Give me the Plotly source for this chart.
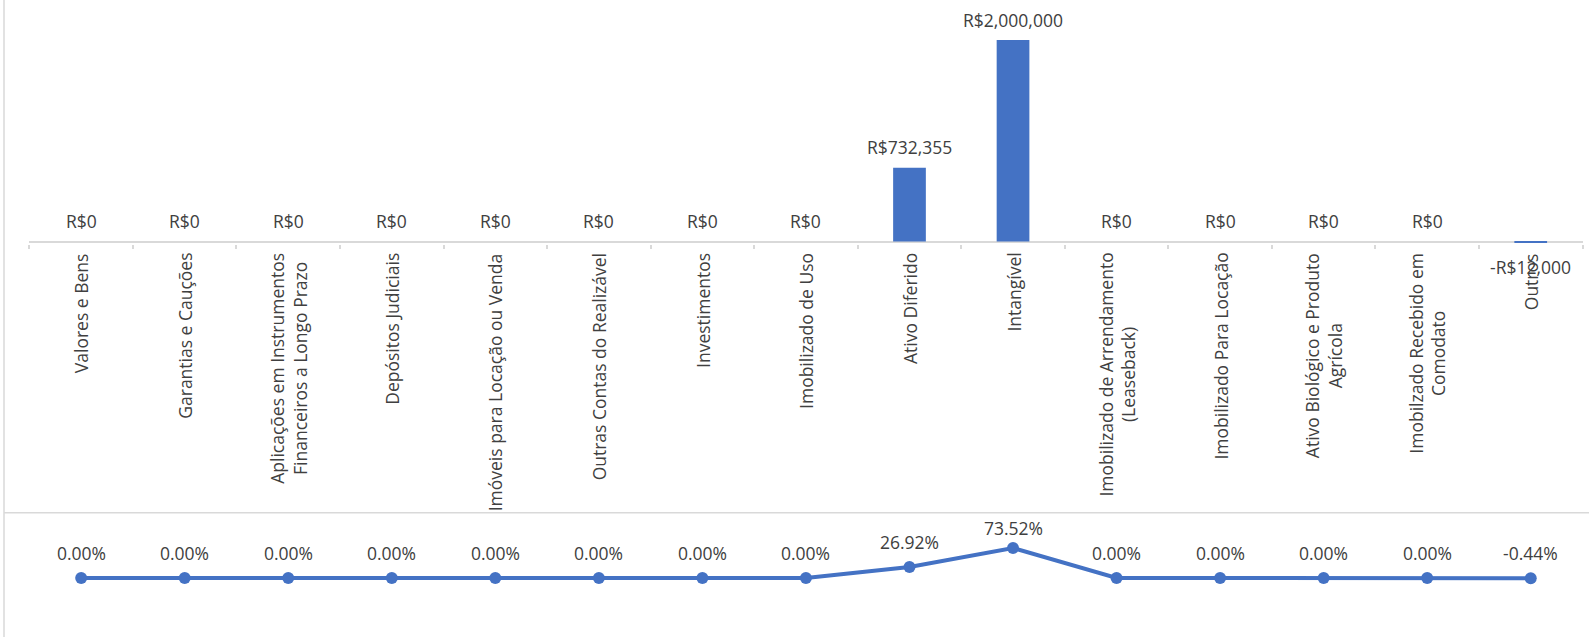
import plotly.graph_objects as go

categories = [
    "Valores e Bens",
    "Garantias e Cauções",
    "Aplicações em Instrumentos<br>Financeiros a Longo Prazo",
    "Depósitos Judiciais",
    "Imóveis para Locação ou Venda",
    "Outras Contas do Realizável",
    "Investimentos",
    "Imobilizado de Uso",
    "Ativo Diferido",
    "Intangível",
    "Imobilizado de Arrendamento<br>(Leaseback)",
    "Imobilizado Para Locação",
    "Ativo Biológico e Produto<br>Agrícola",
    "Imobilzado Recebido em<br>Comodato",
    "Outros",
]
values = [0, 0, 0, 0, 0, 0, 0, 0, 732355, 2000000, 0, 0, 0, 0, -12000]
shares = [0, 0, 0, 0, 0, 0, 0, 0, 0.2692, 0.7352, 0, 0, 0, 0, -0.0044]

W, H = 1589, 637
BLUE = "#4472C4"
TXT = "#404040"
GRID = "#d9d9d9"
FONT = "Open Sans"
FS = 17.5


def py(p):
    return 1 - p / H


def px(p):
    return p / W


def money(v):
    return ("-" if v < 0 else "") + "R$" + f"{abs(v):,.0f}"


fig = go.Figure()

fig.add_trace(go.Bar(
    x=categories, y=values, width=0.316,
    marker=dict(color=BLUE, line=dict(width=0)),
    xaxis="x", yaxis="y", hoverinfo="skip",
))

fig.add_trace(go.Scatter(
    x=categories, y=shares, mode="lines+markers",
    line=dict(color=BLUE, width=4),
    marker=dict(color=BLUE, size=12),
    xaxis="x2", yaxis="y2", hoverinfo="skip",
))

ann = []
for c, v in zip(categories, values):
    ann.append(dict(
        x=c, y=v, xref="x", yref="y", text=money(v), showarrow=False,
        yanchor="middle", yshift=(-24 if v < 0 else 20.5),
        font=dict(family=FONT, size=FS, color=TXT),
    ))
for c in categories:
    ann.append(dict(
        x=c, y=py(251), xref="x", yref="paper", text=c, showarrow=False,
        textangle=-90, yanchor="top", xanchor="center", align="center",
        font=dict(family=FONT, size=FS, color=TXT),
    ))
for c, s in zip(categories, shares):
    ann.append(dict(
        x=c, y=s, xref="x2", yref="y2", text=f"{s*100:.2f}%", showarrow=False,
        yanchor="middle", yshift=(20 if s > 0.5 else 25),
        font=dict(family=FONT, size=FS, color=TXT),
    ))

scale_top = 201.5 / 2000000.0
scale_bot = 30 / 0.7352
ZERO_TOP = 241.5
ZERO_BOT = 578
X0, X1 = 29.4, 1582.5

fig.update_layout(
    width=W, height=H,
    margin=dict(l=0, r=0, t=0, b=0),
    paper_bgcolor="white", plot_bgcolor="white",
    showlegend=False,
    font=dict(family=FONT, color=TXT),
    xaxis=dict(
        domain=[px(X0), px(X1)], anchor="y", type="category",
        range=[-0.5, len(categories) - 0.5],
        showticklabels=False, showgrid=False, showline=False,
        ticks="outside", tickson="boundaries", ticklen=4, tickcolor=GRID,
        tickwidth=1.5, automargin=False, fixedrange=True,
    ),
    yaxis=dict(
        domain=[py(244), py(5)],
        range=[-(244 - ZERO_TOP) / scale_top, (ZERO_TOP - 5) / scale_top],
        showticklabels=False, showgrid=False, showline=False,
        zeroline=True, zerolinecolor=GRID, zerolinewidth=1.5,
        automargin=False, fixedrange=True,
    ),
    xaxis2=dict(
        domain=[px(X0), px(X1)], anchor="y2", type="category",
        range=[-0.5, len(categories) - 0.5],
        showticklabels=False, showgrid=False, showline=False, ticks="",
        automargin=False, fixedrange=True,
    ),
    yaxis2=dict(
        domain=[py(632), py(520)],
        range=[-(632 - ZERO_BOT) / scale_bot, (ZERO_BOT - 520) / scale_bot],
        showticklabels=False, showgrid=False, showline=False, zeroline=False,
        automargin=False, fixedrange=True,
    ),
    annotations=ann,
    shapes=[
        dict(type="line", xref="paper", yref="paper",
             x0=px(4), x1=px(4), y0=0, y1=1,
             line=dict(color=GRID, width=1.5)),
        dict(type="line", xref="paper", yref="paper",
             x0=px(4), x1=1, y0=py(512.7), y1=py(512.7),
             line=dict(color=GRID, width=1.5)),
    ],
)

fig.write_html(
    "out.html",
    config={"displayModeBar": False},
    post_script="document.body.style.margin='0px';document.body.style.padding='0px';",
)
